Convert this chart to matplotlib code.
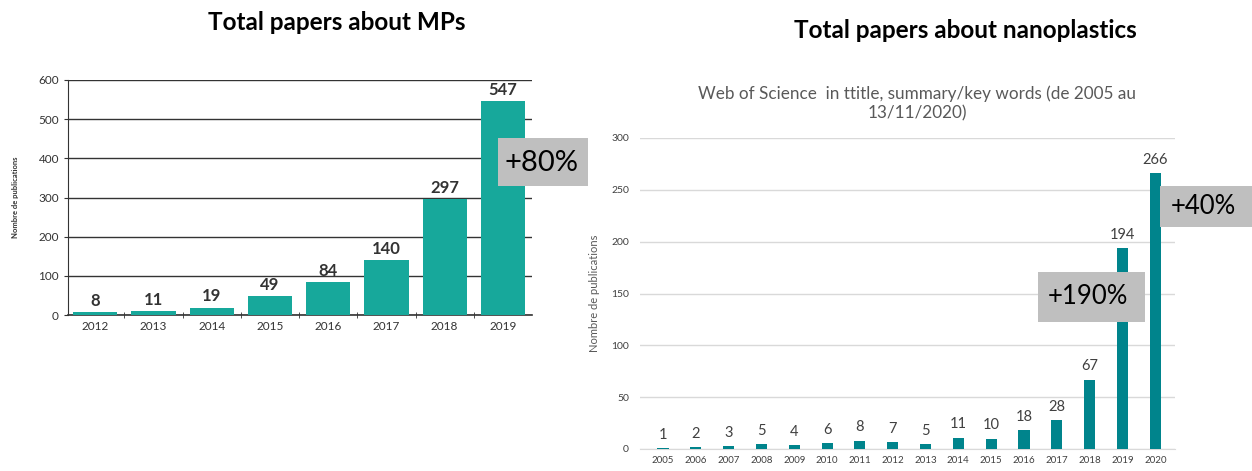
import numpy as np
import matplotlib.pyplot as plt
from matplotlib.patches import Rectangle

# DATA
mp_years = ['2012', '2013', '2014', '2015', '2016', '2017', '2018', '2019']
mp_counts = [8, 11, 19, 49, 84, 140, 297, 547]

np_years = ['2005', '2006', '2007', '2008', '2009', '2010', '2011', '2012',
            '2013', '2014', '2015', '2016', '2017', '2018', '2019', '2020']
np_counts = [1, 2, 3, 5, 4, 6, 8, 7, 5, 11, 10, 18, 28, 67, 194, 266]

plt.rcParams['font.family'] = ['Lato', 'DejaVu Sans']

fig = plt.figure(figsize=(12.52, 4.71), dpi=100)
W, H = 1252, 471

def fx(px):
    return px / W

def fy(py):
    return 1 - py / H

# ---------- LEFT CHART (MPs) ----------
ax1 = fig.add_axes([fx(68), fy(315), fx(532) - fx(68), fy(80) - fy(315)])
x1 = np.arange(len(mp_years))
ax1.bar(x1, mp_counts, width=0.76, color='#17a89b', zorder=3)
ax1.set_xlim(-0.47, len(mp_years) - 0.5)
ax1.set_ylim(0, 600)
ax1.set_yticks(range(0, 601, 100))
ax1.yaxis.grid(True, color='#333333', linewidth=1.0, zorder=0)
ax1.set_xticks(x1)
ax1.set_xticklabels(mp_years)
ax1.set_xticks(np.arange(0.5, len(mp_years) - 0.5, 1), minor=True)
ax1.tick_params(axis='x', which='major', length=0, labelsize=8.5, colors='#333333', pad=4)
ax1.tick_params(axis='x', which='minor', length=4, direction='inout', color='#333333')
ax1.tick_params(axis='y', length=3, labelsize=8.5, colors='#333333', direction='out')
for s in ['top', 'right']:
    ax1.spines[s].set_visible(False)
ax1.spines['left'].set_color('#333333')
ax1.spines['bottom'].set_color('#333333')
ax1.spines['bottom'].set_linewidth(1.2)
ax1.set_ylabel('Nombre de publications', fontsize=5.5, fontweight='bold', color='#333333', labelpad=14)
for xi, v in zip(x1, mp_counts):
    ax1.text(xi, v + 8, str(v), ha='center', va='bottom', fontsize=12,
             fontweight='bold', color='#333333')

fig.text(fx(337), fy(22), 'Total papers about MPs', ha='center', va='center',
         fontsize=17.5, fontweight='bold', color='black')

fig.patches.append(Rectangle((fx(498), fy(186)), fx(588) - fx(498), fy(138) - fy(186),
                             transform=fig.transFigure, facecolor='#bfbfbf', edgecolor='none', zorder=5))
fig.text(fx(542), fy(163), '+80%', ha='center', va='center', fontsize=21, color='black', zorder=6)

# ---------- RIGHT CHART (nanoplastics) ----------
ax2 = fig.add_axes([fx(640), fy(449), fx(1175) - fx(640), fy(138) - fy(449)])
x2 = np.arange(len(np_years))
ax2.bar(x2, np_counts, width=0.34, color='#00848c', zorder=3)
ax2.set_xlim(-0.7, len(np_years) - 0.4)
ax2.set_ylim(0, 300)
ax2.set_yticks(range(0, 301, 50))
ax2.yaxis.grid(True, color='#d9d9d9', linewidth=1.0, zorder=0)
ax2.set_xticks(x2)
ax2.set_xticklabels(np_years)
ax2.tick_params(axis='x', length=0, labelsize=7, colors='#404040', pad=5)
ax2.tick_params(axis='y', length=0, labelsize=7.5, colors='#404040', pad=8)
for s in ['top', 'right', 'left']:
    ax2.spines[s].set_visible(False)
ax2.spines['bottom'].set_color('#d9d9d9')
ax2.set_ylabel('Nombre de publications', fontsize=8, color='#595959', labelpad=8)
for xi, v in zip(x2, np_counts):
    ax2.text(xi, v + 6, str(v), ha='center', va='bottom', fontsize=10.5, color='#404040')

fig.text(fx(965), fy(30), 'Total papers about nanoplastics', ha='center', va='center',
         fontsize=17.5, fontweight='bold', color='black')
fig.text(fx(917), fy(103), 'Web of Science  in ttitle, summary/key words (de 2005 au\n13/11/2020)',
         ha='center', va='center', fontsize=12.3, color='#595959', linespacing=1.25)

fig.patches.append(Rectangle((fx(1038), fy(322)), fx(1145) - fx(1038), fy(272) - fy(322),
                             transform=fig.transFigure, facecolor='#bfbfbf', edgecolor='none', zorder=5))
fig.text(fx(1048), fy(297), '+190%', ha='left', va='center', fontsize=18.5, color='black', zorder=6)

fig.patches.append(Rectangle((fx(1160), fy(227)), fx(1252) - fx(1160), fy(186) - fy(227),
                             transform=fig.transFigure, facecolor='#bfbfbf', edgecolor='none', zorder=5))
fig.text(fx(1171), fy(207), '+40%', ha='left', va='center', fontsize=18.5, color='black', zorder=6)

plt.savefig('out.png', dpi=100)
